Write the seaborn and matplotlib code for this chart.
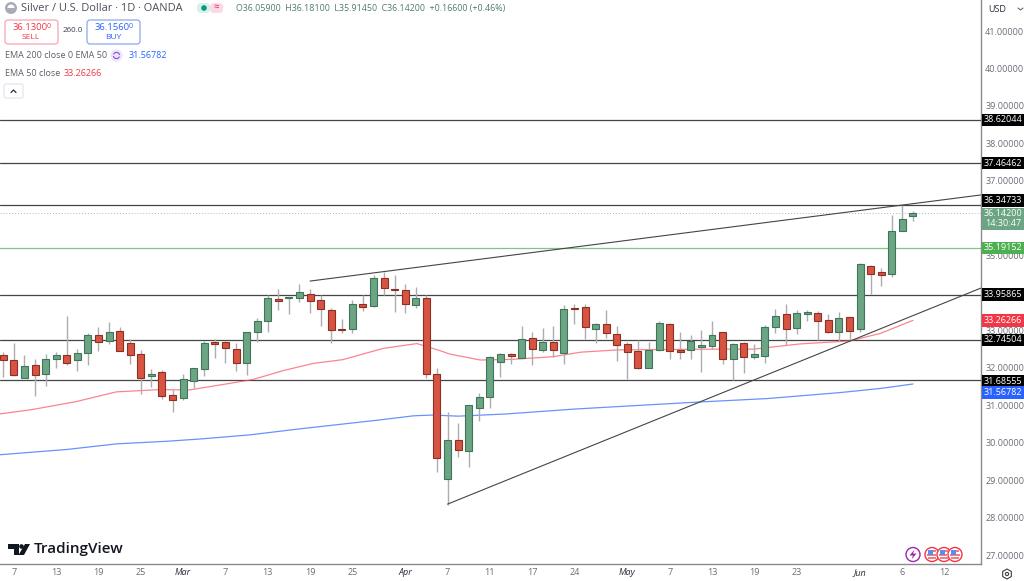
import numpy as np
import pandas as pd
import seaborn as sns
import matplotlib
matplotlib.use("Agg")
import matplotlib.pyplot as plt
from matplotlib.patches import Rectangle, FancyBboxPatch, Circle, Wedge, Polygon, RegularPolygon

sns.set_theme(style="white")
plt.rcParams['font.family'] = ['Open Sans', 'DejaVu Sans']

# daily candles
opens = [32.34, 32.20, 31.72, 32.07, 31.85, 32.23, 32.34, 32.20, 32.41, 32.88,
         32.73, 32.98, 32.67, 32.37, 31.77, 31.88, 31.27, 31.20, 31.66, 31.98,
         32.70, 32.68, 32.51, 32.12, 32.97, 33.25, 33.84, 33.87, 33.87, 33.98,
         33.82, 33.54, 33.04, 33.03, 33.72, 33.65, 34.41, 34.12, 34.07, 33.69,
         33.88, 31.85, 29.04, 30.07, 29.79, 30.93, 31.21, 32.16, 32.36, 32.27,
         32.80, 32.48, 32.68, 32.40, 33.61, 33.62, 33.05, 33.16, 32.91, 32.65,
         32.44, 32.01, 32.48, 33.16, 32.47, 32.48, 32.56, 32.59, 32.95, 32.23,
         32.66, 32.30, 32.33, 33.10, 33.45, 33.06, 33.44, 33.48, 33.27, 32.96,
         33.35, 33.04, 34.71, 34.56, 34.52, 35.65, 36.059]
highs = [32.43, 32.66, 32.34, 32.25, 32.36, 32.42, 33.39, 32.50, 32.92, 33.09,
         33.22, 33.09, 32.76, 32.49, 31.97, 31.94, 31.41, 31.83, 32.01, 32.72,
         32.76, 32.72, 32.67, 32.97, 33.33, 33.94, 34.10, 33.90, 34.24, 34.10,
         33.96, 33.59, 33.30, 33.81, 33.94, 34.48, 34.57, 34.47, 34.23, 34.15,
         33.95, 31.99, 30.82, 30.54, 31.02, 31.32, 32.32, 32.39, 32.40, 33.12,
         32.96, 33.07, 33.13, 33.67, 33.70, 33.71, 33.21, 33.54, 33.12, 32.69,
         32.74, 32.69, 33.25, 33.19, 32.95, 32.88, 33.00, 33.25, 32.96, 32.66,
         32.69, 32.63, 33.14, 33.58, 33.70, 33.54, 33.56, 33.53, 33.43, 33.50,
         33.37, 34.79, 34.76, 34.66, 36.08, 36.35, 36.181]
lows = [31.76, 31.79, 31.72, 31.26, 31.52, 32.00, 32.08, 31.92, 32.09, 32.46,
        32.63, 32.46, 32.10, 31.30, 31.50, 31.18, 30.83, 31.14, 31.45, 31.78,
        32.27, 32.12, 31.93, 31.82, 32.70, 32.96, 33.54, 33.45, 33.76, 33.48,
        33.11, 32.67, 32.92, 32.94, 33.53, 33.62, 33.94, 33.50, 33.47, 33.61,
        31.74, 29.21, 28.33, 29.63, 29.34, 30.58, 30.93, 31.75, 32.10, 32.27,
        32.08, 32.42, 32.28, 32.11, 33.18, 32.78, 32.66, 32.81, 32.19, 31.69,
        31.96, 32.01, 32.46, 32.25, 32.23, 32.23, 31.89, 32.51, 32.11, 31.67,
        31.87, 32.24, 32.14, 32.94, 32.62, 32.90, 33.25, 32.74, 32.94, 32.72,
        32.74, 32.96, 33.97, 34.19, 34.43, 35.65, 35.9145]
closes = [32.22, 31.80, 32.05, 31.82, 32.23, 32.35, 32.14, 32.41, 32.88, 32.69,
          32.95, 32.46, 32.34, 31.74, 31.85, 31.26, 31.15, 31.69, 31.99, 32.66,
          32.63, 32.52, 32.12, 32.95, 33.24, 33.87, 33.79, 33.89, 34.02, 33.79,
          33.58, 33.02, 33.02, 33.72, 33.63, 34.41, 34.13, 34.08, 33.70, 33.88,
          31.85, 29.58, 30.07, 29.81, 31.02, 31.21, 32.30, 32.36, 32.32, 32.76,
          32.51, 32.68, 32.48, 33.57, 33.57, 33.10, 33.16, 32.94, 32.62, 32.42,
          32.01, 32.48, 33.21, 32.45, 32.43, 32.73, 32.60, 32.89, 32.23, 32.64,
          32.30, 32.36, 33.08, 33.39, 33.05, 33.48, 33.50, 33.26, 32.96, 33.32,
          32.98, 34.77, 34.51, 34.49, 35.65, 35.98, 36.142]

ema50_bar = [-0.3, 2.8, 6.9, 10.7, 14.8, 17.6, 21.7, 23.6, 26.5, 29.3, 32.1, 35.9, 39.1,
             41.3, 42.2, 45.1, 48.2, 52, 54.6, 58, 62.1, 65.9, 70.9, 75.3, 80, 82.9, 86]
ema50_val = [30.77, 30.89, 31.10, 31.36, 31.42, 31.41, 31.60, 31.69, 31.93, 32.12, 32.22, 32.52, 32.65,
             32.46, 32.37, 32.21, 32.23, 32.30, 32.42, 32.48, 32.49, 32.50, 32.50, 32.64, 32.72, 32.92, 33.27]
ema200_bar = [-0.3, 6, 10.7, 15.5, 18.6, 23.3, 28, 31.8, 35.3, 38.8, 40.6, 43, 47.6, 54, 62.1,
              65.9, 72.2, 79.1, 82.9, 86]
ema200_val = [29.68, 29.82, 29.97, 30.04, 30.10, 30.21, 30.37, 30.49, 30.60, 30.72, 30.74, 30.71, 30.77, 30.90, 31.03,
              31.09, 31.18, 31.34, 31.45, 31.57]

level_prices = [38.62044, 37.46462, 36.34733, 33.95865, 32.74504, 31.68555]
green_level = 35.19152
last_price = 36.142
upper_bars, upper_prices = [29, 92.4], [34.32, 36.62]
lower_bars, lower_prices = [42, 92.4], [28.36, 34.13]

tick_bars = [1, 5, 9, 13, 17, 21, 25, 29, 33, 38, 42, 46, 50, 54, 59, 63, 67, 71, 75, 81, 85, 89]
tick_labels = ['7', '13', '19', '25', 'Mar', '7', '13', '19', '25', 'Apr', '7', '11', '17', '24',
               'May', '7', '13', '19', '23', 'Jun', '6', '12']
months = ['Mar', 'Apr', 'May', 'Jun']
price_ticks = [27, 28, 29, 30, 31, 32, 33, 35, 37, 38, 39, 40, 41]

UP, UP_EDGE = '#6ba583', '#3f7558'
DOWN, DOWN_EDGE = '#d75442', '#8e2f23'
GREY = '#6a6d78'
LINE = '#454545'

df = pd.DataFrame({"bar": range(len(opens)), "open": opens, "high": highs, "low": lows, "close": closes})
df["up"] = df["close"] >= df["open"]

fig = plt.figure(figsize=(10.24, 5.81), dpi=100)
ax = fig.add_axes([0, 17 / 581, 981 / 1024, 564 / 581])
ax.set_xlim(-0.312, 92.43)
ax.set_ylim(26.76, 41.83)

# levels first so the candles sit on them
for p in level_prices:
    ax.axhline(p, color=LINE, lw=0.9, zorder=1)
ax.axhline(green_level, color='#7fc583', lw=0.9, zorder=1)
ax.axhline(last_price, color='#9dbfae', lw=0.7, ls=(0, (1, 2)), zorder=1)

sns.lineplot(x=ema50_bar, y=ema50_val, color='#f7525f', lw=0.9, alpha=0.7, sort=False, ax=ax, zorder=2, legend=False)
sns.lineplot(x=ema200_bar, y=ema200_val, color='#2962ff', lw=0.9, alpha=0.7, sort=False, ax=ax, zorder=2, legend=False)

ax.vlines(df["bar"], df["low"], df["high"], color='#adadad', lw=1.0, zorder=3)
body_low = df[["open", "close"]].min(axis=1)
body_h = (df["close"] - df["open"]).abs()
ax.bar(df["bar"], body_h, bottom=body_low, width=0.66,
       color=df["up"].map({True: UP, False: DOWN}),
       edgecolor=df["up"].map({True: UP_EDGE, False: DOWN_EDGE}), lw=0.8, zorder=4)

ax.plot(upper_bars, upper_prices, color=LINE, lw=0.8, zorder=5)
ax.plot(lower_bars, lower_prices, color=LINE, lw=0.8, zorder=5)

ax.set_xticks(tick_bars)
ax.set_xticklabels(tick_labels, fontsize=6.5, color=GREY)
for lab in ax.get_xticklabels():
    if lab.get_text() in months:
        lab.set_color('#2a2e39')
        lab.set_style('italic')
ax.yaxis.tick_right()
ax.set_yticks(price_ticks)
ax.set_yticklabels([f"{p:.5f}" for p in price_ticks], fontsize=6.5, color=GREY)
ax.tick_params(axis='both', length=0, pad=3)
ax.tick_params(axis='x', pad=3)
for side in ['left', 'top']:
    ax.spines[side].set_visible(False)
for side in ['right', 'bottom']:
    ax.spines[side].set_color('#8a8a8a')
    ax.spines[side].set_linewidth(1.0)

# overlay in pixels for the TradingView furniture
ov = fig.add_axes([0, 0, 1, 1], zorder=10)
ov.set_xlim(0, 1024)
ov.set_ylim(581, 0)
ov.axis('off')


def badge(y, text, color, h=12.5, fg='white'):
    ov.add_patch(Rectangle((982, y - h / 2), 42, h, fc=color, ec='none'))
    ov.text(1003, y, text, color=fg, fontsize=6.5, ha='center', va='center')


badge(120, '38.62044', '#000000')
badge(163, '37.46462', '#000000')
badge(200.5, '36.34733', '#000000')
ov.add_patch(Rectangle((982, 208), 42, 21.5, fc='#6ba583', ec='none'))
ov.text(1003, 213.5, '36.14200', color='white', fontsize=6.5, ha='center', va='center')
ov.text(1003, 224, '14:30:47', color='white', fontsize=6.5, ha='center', va='center')
badge(248, '35.19152', '#4caf50')
badge(294.5, '33.95865', '#000000')
badge(320.5, '33.26266', '#f23645')
badge(340, '32.74504', '#000000')
badge(381, '31.68555', '#000000')
badge(392.5, '31.56782', '#2962ff')

ov.text(988, 9, 'USD', fontsize=6.5, color='#2a2e39', va='center')
ov.plot([1018, 1020.5, 1023], [8, 10, 8], color='#555555', lw=0.7)

# header
ov.add_patch(Circle((11, 8), 6, fc='#a9acb5', ec='none'))
ov.add_patch(Wedge((11, 8), 3.5, 180, 360, fc='white', ec='none'))
ov.text(21, 8.5, 'Silver / U.S. Dollar · 1D · OANDA', fontsize=7.9, color='#4a4e59', va='center')
ov.add_patch(FancyBboxPatch((197, 3), 13, 10, boxstyle='round,pad=0,rounding_size=4', fc='#d8f0ea', ec='none'))
ov.add_patch(FancyBboxPatch((210, 3), 13, 10, boxstyle='round,pad=0,rounding_size=4', fc='#fbdbe3', ec='none'))
ov.add_patch(Circle((204, 8), 2.8, fc='#089981', ec='none'))
ov.text(216, 8, '≈', fontsize=7, color='#e91e63', ha='center', va='center')
ov.text(236, 8.5, 'O36.05900  H36.18100  L35.91450  C36.14200  +0.16600 (+0.46%)',
        fontsize=6.4, color='#4f7f6a', va='center')

ov.add_patch(FancyBboxPatch((5, 20), 53, 24, boxstyle='round,pad=0,rounding_size=3', fc='white', ec='#f7a6ad', lw=0.9))
ov.text(12.5, 27.5, '36.1300', fontsize=6.8, color='#f23645', va='center')
ov.text(46.5, 26.5, '0', fontsize=5, color='#f23645', va='center')
ov.text(31, 37.5, 'SELL', fontsize=6, color='#f23645', ha='center', va='center')
ov.text(73, 31, '260.0', fontsize=5.8, color='#3b3f4a', ha='center', va='center')
ov.add_patch(FancyBboxPatch((87, 20), 53, 24, boxstyle='round,pad=0,rounding_size=3', fc='white', ec='#8fa8f0', lw=0.9))
ov.text(95, 27.5, '36.1560', fontsize=6.8, color='#2962ff', va='center')
ov.text(129, 26.5, '0', fontsize=5, color='#2962ff', va='center')
ov.text(113, 37.5, 'BUY', fontsize=6, color='#2962ff', ha='center', va='center')

ov.text(5, 56, 'EMA 200 close 0 EMA 50', fontsize=6.5, color='#5d606b', va='center')
ov.add_patch(Circle((116.5, 55.5), 6, fc='#ece4fb', ec='none'))
ov.add_patch(Wedge((116.5, 55.5), 3.6, 20, 170, width=1, fc='#7b3fe4', ec='none'))
ov.add_patch(Wedge((116.5, 55.5), 3.6, 200, 350, width=1, fc='#7b3fe4', ec='none'))
ov.text(129, 56, '31.56782', fontsize=6.5, color='#2962ff', va='center')
ov.text(5, 73, 'EMA 50 close', fontsize=6.5, color='#5d606b', va='center')
ov.text(64, 73, '33.26266', fontsize=6.5, color='#f23645', va='center')
ov.add_patch(FancyBboxPatch((4, 84), 19, 14, boxstyle='round,pad=0,rounding_size=2', fc='white', ec='#e0e3eb', lw=0.8))
ov.plot([11, 13.5, 16], [92.5, 90, 92.5], color='#2a2e39', lw=0.9)

# logo
ov.add_patch(Polygon([(8, 544), (19, 544), (19, 555), (14, 555), (14, 549), (8, 549)], fc='#131722', ec='none'))
ov.add_patch(Circle((21.5, 546.5), 2.3, fc='#131722', ec='none'))
ov.add_patch(Polygon([(25, 544), (30, 544), (24, 555), (18.5, 555)], fc='#131722', ec='none'))
ov.text(34, 549.5, 'TradingView', fontsize=11, fontweight='semibold', color='#131722', va='center')

# event markers along the bottom
ov.add_patch(Circle((913, 554.5), 7, fc='white', ec='#9c27b0', lw=1))
ov.add_patch(Polygon([(914.5, 549.5), (909.5, 555.5), (913, 555.5), (911.5, 559.5), (916.5, 553.5), (913, 553.5)],
                     fc='#9c27b0', ec='none'))
for cx in [932, 944, 955]:
    ov.add_patch(Circle((cx, 554.5), 7, fc='white', ec='#f23645', lw=1, zorder=3))
    ov.add_patch(Rectangle((cx - 4, 550), 8, 2, fc='#f77c80', ec='none', zorder=4))
    ov.add_patch(Rectangle((cx - 5, 553.5), 10, 2, fc='#f77c80', ec='none', zorder=4))
    ov.add_patch(Rectangle((cx - 4, 557), 8, 2, fc='#f77c80', ec='none', zorder=4))
    ov.add_patch(Rectangle((cx - 4.5, 550), 5, 4.5, fc='#5b8def', ec='none', zorder=5))

ov.add_patch(RegularPolygon((1007, 574), 6, radius=5, fc='white', ec='#3b3f4a', lw=0.8))
ov.add_patch(Circle((1007, 574), 1.6, fc='white', ec='#3b3f4a', lw=0.8))

fig.savefig("out.png", dpi=100)
